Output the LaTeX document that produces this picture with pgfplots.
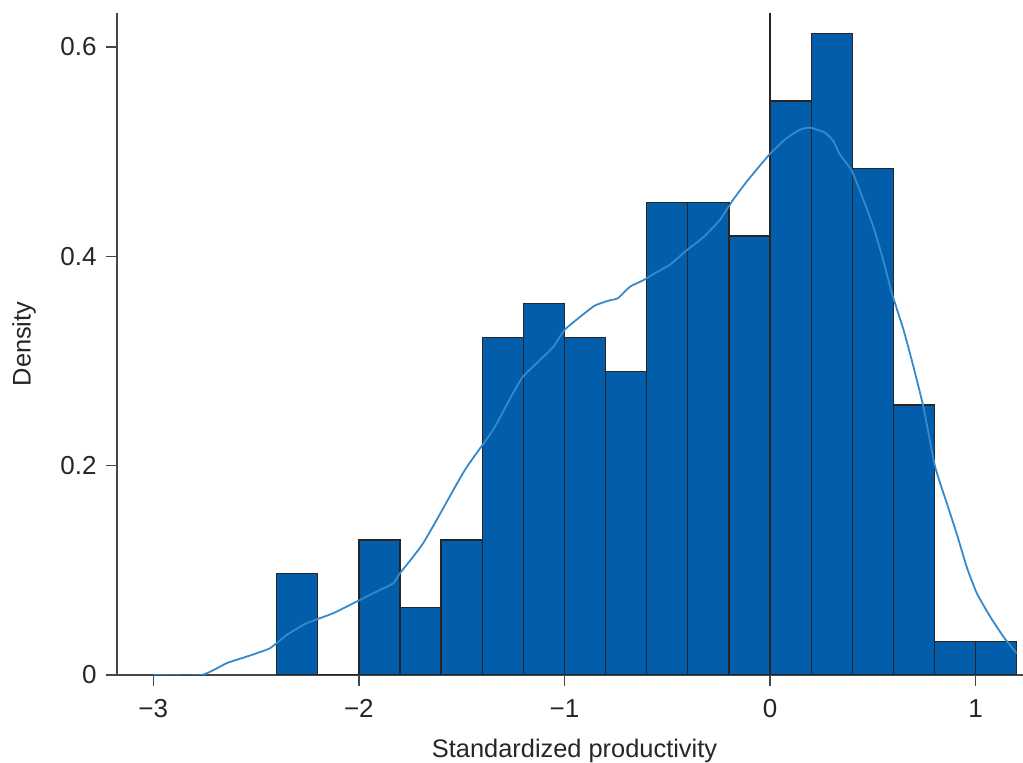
\documentclass[border=0pt]{standalone}
\usepackage{fontspec}
\setmainfont{Liberation Sans}
\usepackage{pgfplots}
\pgfplotsset{compat=1.18}

\definecolor{barfill}{RGB}{2,94,170}
\definecolor{baredge}{RGB}{38,38,38}
\definecolor{kdeline}{RGB}{52,138,204}
\definecolor{axisgray}{RGB}{70,70,70}

\begin{document}
\begin{tikzpicture}
  \begin{axis}[
      name=ax,
      scale only axis,
      width=453pt, height=331pt,
      xmin=-3.1766, xmax=1.2305,
      ymin=0, ymax=0.6325,
      axis x line*=bottom,
      axis y line*=left,
      x axis line style={shorten <=-5pt},
      axis line style={draw=axisgray, line width=0.65pt},
      xtick={-3,-2,-1,0,1},
      xticklabels={−3,−2,−1,0,1},
      ytick={0,0.2,0.4,0.6},
      yticklabels={0,0.2,0.4,0.6},
      tick align=outside,
      major tick length=5.5pt,
      tick style={draw=axisgray, line width=0.65pt},
      tick label style={font=\fontsize{13}{15}\selectfont, text=black!85},
      xticklabel style={inner sep=0pt, anchor=base, yshift=-16pt},
      yticklabel style={inner sep=0pt, anchor=east, xshift=-4.5pt},
      every axis x label/.style={at={(axis description cs:0.505,-0.1239)}, anchor=base},
      every axis y label/.style={at={(axis description cs:-0.1026,0.5)}, rotate=90, anchor=center},
      label style={font=\fontsize{12.7}{15}\selectfont, text=black!85},
      xlabel={Standardized productivity},
      ylabel={Density},
    ]
    % histogram, bin width 0.2, density = count/(155*0.2)
    \addplot[ybar interval, fill=barfill, draw=baredge, line width=0.65pt] coordinates {
      (-2.4,0.0968) (-2.2,0) (-2.0,0.1290) (-1.8,0.0645) (-1.6,0.1290)
      (-1.4,0.3226) (-1.2,0.3548) (-1.0,0.3226) (-0.8,0.2903) (-0.6,0.4516)
      (-0.4,0.4516) (-0.2,0.4194) (0.0,0.5484) (0.2,0.6129) (0.4,0.4839)
      (0.6,0.2581) (0.8,0.0323) (1.0,0.0323) (1.2,0.0323)
    };
    % reference line at zero
    \addplot[draw=baredge, line width=0.65pt] coordinates {(0,0) (0,0.6325)};
    % kernel density
    \addplot[kdeline, line width=0.9pt, smooth, tension=0.3] coordinates {
      (-3.0,0) (-2.765,0) (-2.644,0.0112) (-2.547,0.0175) (-2.433,0.0255)
      (-2.352,0.0382) (-2.255,0.0494) (-2.125,0.059) (-1.995,0.0717)
      (-1.898,0.0812) (-1.833,0.0876) (-1.80,0.0972) (-1.736,0.113)
      (-1.687,0.126) (-1.622,0.148) (-1.484,0.196) (-1.348,0.234)
      (-1.251,0.269) (-1.202,0.285) (-1.119,0.301) (-1.056,0.313)
      (-0.998,0.330) (-0.925,0.342) (-0.852,0.353) (-0.779,0.358)
      (-0.740,0.360) (-0.681,0.371) (-0.618,0.377) (-0.550,0.385)
      (-0.487,0.392) (-0.404,0.406) (-0.326,0.418) (-0.243,0.435)
      (-0.180,0.454) (-0.107,0.473) (0.0,0.498) (0.081,0.513)
      (0.146,0.521) (0.195,0.523) (0.268,0.518) (0.308,0.510)
      (0.341,0.497) (0.397,0.482) (0.454,0.454) (0.503,0.428)
      (0.551,0.396) (0.592,0.365) (0.649,0.330) (0.697,0.295)
      (0.746,0.256) (0.803,0.199) (0.860,0.164) (0.908,0.135)
      (0.957,0.103) (1.006,0.078) (1.071,0.0557) (1.135,0.0366)
      (1.200,0.0207)
    };
  \end{axis}
  \pgfresetboundingbox
  \path[use as bounding box] ([shift={(-58.5pt,-44pt)}]ax.south west)
    rectangle ([shift={(0pt,6.5pt)}]ax.north east);
\end{tikzpicture}
\end{document}
